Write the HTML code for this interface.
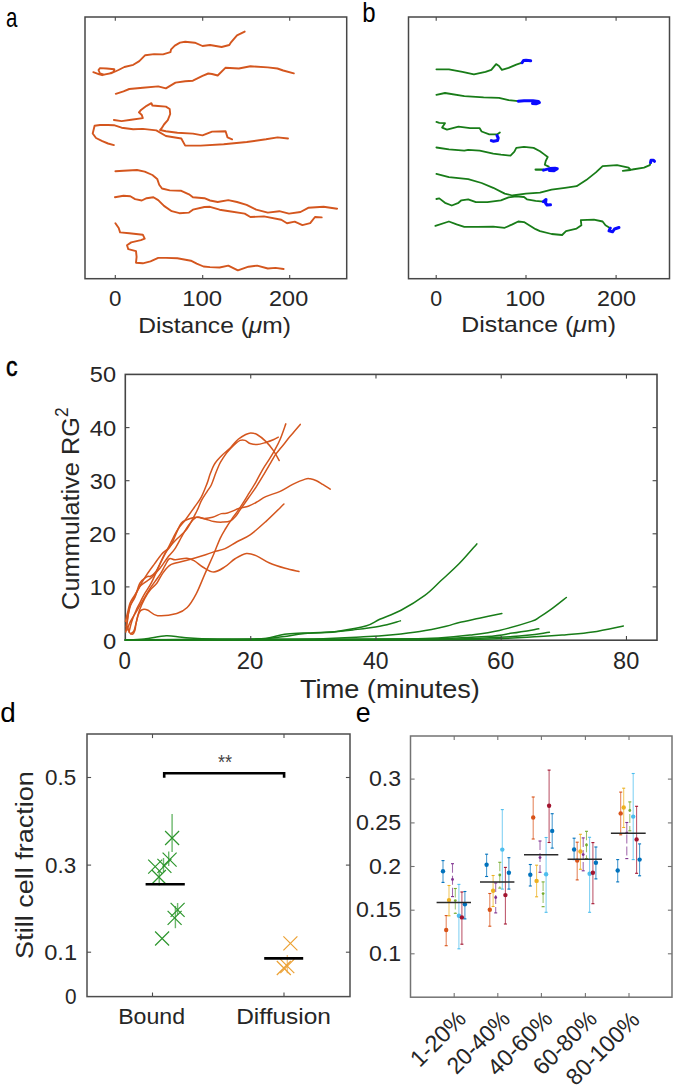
<!DOCTYPE html>
<html><head><meta charset="utf-8"><title>Figure</title>
<style>html,body{margin:0;padding:0;background:#fff;width:675px;height:1086px;overflow:hidden}svg{display:block}text{font-family:"Liberation Sans",sans-serif}</style>
</head><body>
<svg width="675" height="1086" viewBox="0 0 675 1086" font-family='"Liberation Sans", sans-serif'>
<rect width="675" height="1086" fill="#fff"/>
<text x="6.02" y="26.6" font-size="28.5" fill="#000" textLength="11.42" lengthAdjust="spacingAndGlyphs" >a</text>
<text x="362.16" y="21.6" font-size="28.5" fill="#000" textLength="13.35" lengthAdjust="spacingAndGlyphs" >b</text>
<text x="6.02" y="375.8" font-size="28.5" fill="#000" textLength="11.53" lengthAdjust="spacingAndGlyphs" stroke="#000" stroke-width="0.6">c</text>
<text x="0.13" y="722" font-size="28.5" fill="#000" textLength="15.54" lengthAdjust="spacingAndGlyphs" >d</text>
<text x="355.7" y="722" font-size="28.5" fill="#000" textLength="14.9" lengthAdjust="spacingAndGlyphs" >e</text>
<polyline points="93.3,72.2 99.3,74.4 102.2,75.2 109.6,73.4 113.3,72.2 114.4,69.3 106.7,68.5 100,68.1 98.5,70 100,73.5 104,74.6 111.9,73 118.5,70 124.4,67 133.3,64.8 139.3,61.1 145.2,55.2 154.1,54.1 163,54.4 170.4,52.2 171.1,49.3 174.8,45.6 180,42.6 185.2,41.8 194.8,42.7 202.5,46 210,45 221.6,47 229.3,45 231.2,42.1 237,35.4 244.7,31.6" fill="none" stroke="#d4561e" stroke-width="1.9" stroke-linejoin="round" stroke-linecap="round" />
<polyline points="115.8,93.8 123.5,91.3 129.3,89 142.8,87.8 158.2,86.4 165.9,88.4 175.5,82.6 185.2,81.2 192.9,80.7 202.5,75.9 208.3,73.5 212,74 217.7,75.5 225.4,67.8 238.9,68.5 250.4,66.2 267.8,67.4 277.4,68.5 283.2,70.5 293.8,73.4" fill="none" stroke="#d4561e" stroke-width="1.9" stroke-linejoin="round" stroke-linecap="round" />
<polyline points="113.9,120 121.6,121.1 131.2,119.8 142.8,118.1 141.8,115 138.9,112.3 141,110 146.6,105.8 151.4,103.2 152.4,105.5 158,106 165.9,106.6 169.7,109 170.2,114 167.8,120.2 164,124.5 161.5,128.5 160.1,130 165.9,131.3 177.4,132.7 192.9,133.6 202.5,135.4 212.1,131.6 225.6,131.2 227.5,137.4 232.1,139.3" fill="none" stroke="#d4561e" stroke-width="1.9" stroke-linejoin="round" stroke-linecap="round" />
<polyline points="113.9,145.1 108,143.5 102.3,141.2 96,138 92.7,133.5 94.6,125.8 100,125 108.1,125 113.9,125.2 121.6,127.7 133.2,129.3 142.8,128.9 156.3,130.4 165.9,136 181.3,138.5 185.2,145.6 200.6,145.6 223.7,144.3 246.8,142 266,139.3 277.6,137.4 288,138.5" fill="none" stroke="#d4561e" stroke-width="1.9" stroke-linejoin="round" stroke-linecap="round" />
<polyline points="115.4,171.2 123.5,170.8 137,170 144.7,171.6 152.4,175 157.2,178.9 159.2,184.7 162,188.5 169.7,190.4 181.3,190.8 189,194.3 192.9,197.2 204.4,198.2 210,200.5 217.7,202 228.3,200.1 237,202 246.6,204.9 256.2,209.7 267.8,212.6 279.3,211.2 289,213.6 300.5,212 308.2,207.8 323.6,206.8 337.1,208.7" fill="none" stroke="#d4561e" stroke-width="1.9" stroke-linejoin="round" stroke-linecap="round" />
<polyline points="114.9,197.2 123.5,195.8 130.3,196.2 135.1,199.1 141.8,200.5 146.6,198.2 153.4,197.2 158.2,200.1 164,205.9 171.7,211.2 179.4,213.2 189,212.6 192.9,209.7 204.4,207 210,206.8 219.6,209.7 229.3,211.2 244.7,213.6 250.4,217 263.9,216.4 281.3,219.7 287,223.2 294.7,221.6 302.4,225.1 310.2,223.2 315,217 321.7,217.4" fill="none" stroke="#d4561e" stroke-width="1.9" stroke-linejoin="round" stroke-linecap="round" />
<polyline points="115.4,223.2 118.7,228 120.1,232.4 129.3,233.2 142.8,234.7 144.7,238.6 140.9,240.1 131.2,242.4 127,245.3 128.3,249.2 136,251.1 136.6,256.9 136,262.7 142.8,263.3 150.5,261.3 158.2,257.9 165.9,257.9 177.4,258.2 190.9,260.7 196.7,263.6 203.5,266.5 210,267.1 219.6,267.5 228.3,265.6 237.9,270.4 248.5,266.7 257.2,265.6 267.8,268.5 275.5,267.9 283.6,269" fill="none" stroke="#d4561e" stroke-width="1.9" stroke-linejoin="round" stroke-linecap="round" />
<rect x="85" y="17" width="261.7" height="261.7" fill="none" stroke="#474747" stroke-width="1.5"/>
<line x1="115.3" y1="278.7" x2="115.3" y2="275" stroke="#474747" stroke-width="1.1" />
<line x1="115.3" y1="17" x2="115.3" y2="20.7" stroke="#474747" stroke-width="1.1" />
<line x1="202.7" y1="278.7" x2="202.7" y2="275" stroke="#474747" stroke-width="1.1" />
<line x1="202.7" y1="17" x2="202.7" y2="20.7" stroke="#474747" stroke-width="1.1" />
<line x1="289.7" y1="278.7" x2="289.7" y2="275" stroke="#474747" stroke-width="1.1" />
<line x1="289.7" y1="17" x2="289.7" y2="20.7" stroke="#474747" stroke-width="1.1" />
<text x="109.1" y="306.4" font-size="21.2" fill="#262626" textLength="12.41" lengthAdjust="spacingAndGlyphs" >0</text>
<text x="182.21" y="306.4" font-size="21.2" fill="#262626" textLength="39.94" lengthAdjust="spacingAndGlyphs" >100</text>
<text x="269.11" y="306.4" font-size="21.2" fill="#262626" textLength="39.04" lengthAdjust="spacingAndGlyphs" >200</text>
<text x="138.16" y="332.7" font-size="21.2" fill="#262626" textLength="152.85" lengthAdjust="spacingAndGlyphs">Distance (<tspan font-style="italic">&#956;</tspan>m)</text>
<polyline points="436.4,69.3 448.9,69.3 462.4,71.8 473.9,74.3 485.5,71.8 491.3,69.9 496.1,64.1 499,66 501.9,69.9 508.6,67.9 516.3,64.7 522.1,62.7" fill="none" stroke="#187c18" stroke-width="1.8" stroke-linejoin="round" stroke-linecap="round" />
<polyline points="436.4,94.9 445,93 464.3,96.2 483.6,97.4 499,97.8 508.6,100.1 518.2,101.2" fill="none" stroke="#187c18" stroke-width="1.8" stroke-linejoin="round" stroke-linecap="round" />
<polyline points="436.4,121.9 439.3,122.8 445,123.2 442.1,127.6 447,129.6 458.5,126.7 470.1,128.2 479.7,128.2 481.6,131.5 489.3,134.4 497,134.4 499.9,132.4" fill="none" stroke="#187c18" stroke-width="1.8" stroke-linejoin="round" stroke-linecap="round" />
<polyline points="436.4,147.5 448.9,149.4 464.3,150.7 468.2,149.8 479.7,150.7 493.2,153.6 500.9,154.6 510.5,155.6 514.4,151.7 516.3,147.9 524,146.9 533.6,147.9 540,151.2 543.9,154.1 547.7,157 545.8,160.8 544.8,164.7 548.7,166.6" fill="none" stroke="#187c18" stroke-width="1.8" stroke-linejoin="round" stroke-linecap="round" />
<polyline points="436.4,173.9 448.9,177.2 468.2,179.1 481.6,183 493.2,187.8 504.7,193.6 512.4,195.5 525.9,193.6 540,192.6 551.6,189.7 565,187.8 576.6,186.2 586.2,180.1 595.9,172.4 602.6,166.2 617,165.2 628.6,167.6 630.5,170.1 622.8,170.8 632.4,169.5 644,167.6 649.8,165.1 650.7,162.3" fill="none" stroke="#187c18" stroke-width="1.8" stroke-linejoin="round" stroke-linecap="round" />
<polyline points="436.4,199 439.3,198.4 445,202.8 451.8,205.5 458.5,202.8 461.4,200.3 468.2,199.3 475.9,202.2 487.4,202.2 500.9,200.3 508.6,197.4 516.3,196.4 524,197 526.9,199.3 535.6,200.9 543.3,201.6" fill="none" stroke="#187c18" stroke-width="1.8" stroke-linejoin="round" stroke-linecap="round" />
<polyline points="435.4,225.9 448.9,221.5 456.6,224.4 464.3,226.9 477.8,226.9 493.2,226.7 504.7,227.8 512.4,224.4 518.2,221.5 524,222.1 535.6,229.2 540,231.1 551.6,234 562.1,235 566,231.1 576.6,228.6 581.4,225.3 580.8,220.1 593.9,219.6 602.6,221.5 605.5,225.3 610.3,228.2" fill="none" stroke="#187c18" stroke-width="1.8" stroke-linejoin="round" stroke-linecap="round" />
<polyline points="535.6,169.6 543.3,169.6" fill="none" stroke="#187c18" stroke-width="2.2" stroke-linejoin="round" stroke-linecap="round" />
<polyline points="522.1,62.7 523.5,60.5 526,60.3 530.7,60.8" fill="none" stroke="#0a0aff" stroke-width="3.0" stroke-linejoin="round" stroke-linecap="round" />
<polyline points="518.2,101.2 524,100.7 533,100.8 538.5,101.6 539.4,102.6 536,103.8 532.5,103.4" fill="none" stroke="#0a0aff" stroke-width="3.0" stroke-linejoin="round" stroke-linecap="round" />
<polyline points="497,135.5 498.2,138 497.5,140.5 493.5,141.2 491.3,140.6" fill="none" stroke="#0a0aff" stroke-width="3.0" stroke-linejoin="round" stroke-linecap="round" />
<polyline points="543.5,170.1 549.6,168.6 555,168.3 557.3,168.8 554,170.8 549.5,170.6" fill="none" stroke="#0a0aff" stroke-width="3.0" stroke-linejoin="round" stroke-linecap="round" />
<polyline points="650.5,162.6 651,160.3 653.5,160.2 654.5,161.3" fill="none" stroke="#0a0aff" stroke-width="3.0" stroke-linejoin="round" stroke-linecap="round" />
<polyline points="543.3,201.6 546,199.5 545.5,203 547,205 550.5,204.8" fill="none" stroke="#0a0aff" stroke-width="3.0" stroke-linejoin="round" stroke-linecap="round" />
<polyline points="610.3,228.2 609,230.8 612.5,231.8 614.5,229 619,227.5" fill="none" stroke="#0a0aff" stroke-width="3.0" stroke-linejoin="round" stroke-linecap="round" />
<rect x="408.5" y="17" width="261" height="261.7" fill="none" stroke="#474747" stroke-width="1.5"/>
<line x1="436.2" y1="278.7" x2="436.2" y2="275" stroke="#474747" stroke-width="1.1" />
<line x1="436.2" y1="17" x2="436.2" y2="20.7" stroke="#474747" stroke-width="1.1" />
<line x1="526" y1="278.7" x2="526" y2="275" stroke="#474747" stroke-width="1.1" />
<line x1="526" y1="17" x2="526" y2="20.7" stroke="#474747" stroke-width="1.1" />
<line x1="616.1" y1="278.7" x2="616.1" y2="275" stroke="#474747" stroke-width="1.1" />
<line x1="616.1" y1="17" x2="616.1" y2="20.7" stroke="#474747" stroke-width="1.1" />
<text x="430.24" y="306.4" font-size="21.2" fill="#262626" textLength="11.9" lengthAdjust="spacingAndGlyphs" >0</text>
<text x="505.2" y="306.4" font-size="21.2" fill="#262626" textLength="39.99" lengthAdjust="spacingAndGlyphs" >100</text>
<text x="597.06" y="306.4" font-size="21.2" fill="#262626" textLength="38.99" lengthAdjust="spacingAndGlyphs" >200</text>
<text x="461.2" y="332.4" font-size="21.2" fill="#262626" textLength="154.75" lengthAdjust="spacingAndGlyphs">Distance (<tspan font-style="italic">&#956;</tspan>m)</text>
<rect x="125.3" y="374.4" width="531.7" height="265.8" fill="none" stroke="#454545" stroke-width="1.6"/>
<path d="M125.5,640 C128.63,639.82 137.5,639.65 144.29,638.94 C151.07,638.23 159.94,636.02 166.2,635.75 C172.47,635.49 175.91,636.86 181.86,637.35 C187.81,637.83 190.42,638.41 201.9,638.67 C213.38,638.94 239.89,639.03 250.74,638.94 C261.59,638.85 261.39,638.91 267.02,638.14 C272.66,637.37 278.61,635.16 284.55,634.32 C290.5,633.48 296.04,633.45 302.71,633.1 C309.39,632.74 318.47,632.55 324.63,632.19 C330.79,631.84 332.67,632.06 339.66,630.97 C346.65,629.88 359.91,627.61 366.59,625.66 C373.27,623.72 374,621.86 379.74,619.29 C385.48,616.72 393.51,614.25 401.03,610.26 C408.54,606.28 418.14,600.35 424.82,595.4 C431.5,590.44 435.36,585.84 441.1,580.53 C446.84,575.22 453.32,569.64 459.26,563.54 C465.21,557.43 473.88,547.16 476.8,543.89" fill="none" stroke="#187c18" stroke-width="1.5" stroke-linejoin="round" stroke-linecap="round" />
<path d="M125.5,640 C135.94,639.91 167.25,639.56 188.12,639.47 C208.99,639.38 235.09,639.91 250.74,639.47 C266.39,639.03 273.39,637.79 282.05,636.81 C290.71,635.84 295.3,634.34 302.71,633.63 C310.12,632.92 318.16,633.19 326.51,632.57 C334.86,631.95 343.94,630.97 352.81,629.91 C361.68,628.85 371.81,627.7 379.74,626.19 C387.67,624.69 396.96,621.77 400.4,620.88" fill="none" stroke="#187c18" stroke-width="1.5" stroke-linejoin="round" stroke-linecap="round" />
<path d="M125.5,640 C141.16,639.96 188.12,639.91 219.43,639.73 C250.74,639.56 289.36,639.42 313.36,638.94 C337.36,638.45 350.2,637.52 363.46,636.81 C376.71,636.11 383.49,635.58 392.89,634.69 C402.28,633.81 410.94,632.92 419.81,631.5 C428.69,630.09 439.54,627.7 446.11,626.19 C452.69,624.69 453.73,623.8 459.26,622.48 C464.8,621.15 472.21,619.73 479.3,618.23 C486.4,616.72 498.09,614.25 501.85,613.45" fill="none" stroke="#187c18" stroke-width="1.5" stroke-linejoin="round" stroke-linecap="round" />
<path d="M125.5,640 C146.37,639.96 208.99,639.82 250.74,639.73 C292.49,639.65 344.67,639.78 375.98,639.47 C407.29,639.16 422.42,638.67 438.6,637.88 C454.78,637.08 462.92,635.93 473.04,634.69 C483.16,633.45 489.64,632.65 499.34,630.44 C509.05,628.23 524.6,623.63 531.28,621.41 C537.96,619.2 536.08,619.2 539.42,617.17 C542.76,615.13 546.83,612.48 551.32,609.2 C555.8,605.93 563.84,599.47 566.34,597.52" fill="none" stroke="#187c18" stroke-width="1.5" stroke-linejoin="round" stroke-linecap="round" />
<path d="M125.5,640 C146.37,639.97 203.78,639.93 250.74,639.84 C297.7,639.75 368.05,640.02 407.29,639.47 C446.53,638.92 468.66,637.61 486.19,636.55 C503.72,635.49 503.72,634.38 512.49,633.1 C521.26,631.81 534.41,629.56 538.79,628.85" fill="none" stroke="#187c18" stroke-width="1.5" stroke-linejoin="round" stroke-linecap="round" />
<path d="M125.5,640 C151.59,639.97 229.87,639.93 282.05,639.84 C334.23,639.75 400.19,640.02 438.6,639.47 C477.01,638.92 494.02,637.74 512.49,636.55 C530.96,635.35 543.28,633.01 549.44,632.3" fill="none" stroke="#187c18" stroke-width="1.5" stroke-linejoin="round" stroke-linecap="round" />
<path d="M125.5,640 C156.81,639.97 255.96,639.93 313.36,639.84 C370.76,639.75 432.23,640.02 469.91,639.47 C507.59,638.92 523.35,637.35 539.42,636.55 C555.49,635.75 557.47,635.44 566.34,634.69 C575.22,633.94 583.15,633.5 592.65,632.03 C602.14,630.57 618.22,626.95 623.33,625.93" fill="none" stroke="#187c18" stroke-width="1.5" stroke-linejoin="round" stroke-linecap="round" />
<path d="M125.5,640 C146.37,639.96 208.99,639.82 250.74,639.73 C292.49,639.65 344.67,639.56 375.98,639.47 C407.29,639.38 428.16,639.25 438.6,639.2" fill="none" stroke="#187c18" stroke-width="2.2" stroke-linejoin="round" stroke-linecap="round" />
<path d="M125.81,632.03 C126.07,630.26 126.75,625.57 127.38,621.41 C128,617.26 128.32,611.06 129.57,607.08 C130.82,603.1 133.17,601.5 134.89,597.52 C136.62,593.54 137.92,586.63 139.9,583.18 C141.89,579.73 145.02,577.96 146.79,576.81 C148.57,575.66 149.09,577.08 150.55,576.28 C152.01,575.48 153.68,574.69 155.56,572.03 C157.44,569.38 159.73,564.33 161.82,560.35 C163.91,556.37 166.2,551.85 168.08,548.14 C169.96,544.42 171.42,541.23 173.09,538.05 C174.76,534.86 176.01,532.12 178.1,529.02 C180.19,525.92 182.9,523.09 185.62,519.46 C188.33,515.83 191.77,510.97 194.38,507.25 C196.99,503.53 199.18,501.06 201.27,497.16 C203.36,493.27 205.44,487.69 206.91,483.89 C208.37,480.08 208.89,477.43 210.04,474.33 C211.19,471.23 212.54,467.69 213.79,465.3 C215.05,462.91 216.09,461.76 217.55,459.99 C219.01,458.22 220.79,456.36 222.56,454.68 C224.34,453 226.42,451.58 228.2,449.9 C229.97,448.22 231.54,446.36 233.21,444.59 C234.88,442.82 236.13,440.96 238.22,439.28 C240.3,437.6 243.64,435.56 245.73,434.5 C247.82,433.44 248.86,432.91 250.74,432.91 C252.62,432.91 254.5,433.09 257,434.5 C259.51,435.92 263.06,438.75 265.77,441.41 C268.48,444.06 271.04,447.25 273.28,450.43 C275.53,453.62 278.24,458.84 279.23,460.52" fill="none" stroke="#d4561e" stroke-width="1.5" stroke-linejoin="round" stroke-linecap="round" />
<path d="M126.13,626.73 C126.44,624.96 127.27,619.64 128,616.11 C128.74,612.57 129.26,609.02 130.51,605.49 C131.76,601.95 133.64,598.67 135.52,594.87 C137.4,591.06 139.8,586.19 141.78,582.65 C143.76,579.11 145.33,576.72 147.42,573.62 C149.5,570.53 151.9,567.34 154.31,564.07 C156.71,560.79 159.67,556.46 161.82,553.98 C163.97,551.5 164.91,551.5 167.2,549.2 C169.5,546.9 172.32,543.54 175.6,540.17 C178.87,536.81 183.32,533.89 186.87,529.02 C190.42,524.15 194.49,515.66 196.89,510.97 C199.29,506.28 199.6,504.06 201.27,500.88 C202.94,497.69 205.24,494.51 206.91,491.85 C208.58,489.2 209.83,488.05 211.29,484.95 C212.75,481.85 214.32,476.72 215.67,473.27 C217.03,469.81 218.28,466.63 219.43,464.24 C220.58,461.85 221.31,460.88 222.56,458.93 C223.81,456.98 225.07,454.86 226.94,452.56 C228.82,450.26 231.64,447.16 233.83,445.12 C236.02,443.09 238.22,441.14 240.09,440.34 C241.97,439.55 243.43,439.81 245.1,440.34 C246.77,440.88 248.13,442.82 250.11,443.53 C252.1,444.24 254.39,444.77 257,444.59 C259.61,444.42 263.06,443.26 265.77,442.47 C268.48,441.67 271.2,440.7 273.28,439.81 C275.37,438.93 277.46,437.6 278.29,437.16" fill="none" stroke="#d4561e" stroke-width="1.5" stroke-linejoin="round" stroke-linecap="round" />
<path d="M129.01,632.03 C129.47,630.26 130.57,625.04 131.76,621.41 C132.95,617.79 134.79,613.36 136.15,610.26 C137.5,607.17 138.6,605.4 139.9,602.83 C141.21,600.26 142.09,598.14 143.97,594.87 C145.85,591.59 149.03,587.17 151.17,583.18 C153.31,579.2 154.62,575.75 156.81,570.97 C159,566.19 161.98,558.76 164.32,554.51 C166.67,550.26 168.86,549.11 170.9,545.48 C172.93,541.85 174.81,536.46 176.54,532.74 C178.26,529.02 179.2,525.48 181.23,523.18 C183.27,520.88 186.24,519.91 188.75,518.93 C191.25,517.96 193.55,517.34 196.26,517.34 C198.97,517.34 202.11,518.22 205.03,518.93 C207.95,519.64 210.87,521.06 213.79,521.59 C216.72,522.12 219.8,522.21 222.56,522.12 C225.33,522.03 228.2,522.03 230.39,521.06 C232.58,520.08 234.09,518.14 235.71,516.28 C237.33,514.42 238.01,512.91 240.09,509.9 C242.18,506.9 245.52,502.12 248.24,498.22 C250.95,494.33 253.77,490.52 256.38,486.54 C258.98,482.56 261.49,478.31 263.89,474.33 C266.29,470.35 268.8,466.01 270.78,462.65 C272.76,459.28 274.01,456.72 275.79,454.15 C277.56,451.58 278.92,450.34 281.42,447.25 C283.93,444.15 287.69,439.37 290.82,435.57 C293.95,431.76 298.64,426.27 300.21,424.41" fill="none" stroke="#d4561e" stroke-width="1.5" stroke-linejoin="round" stroke-linecap="round" />
<path d="M125.5,621.41 C125.81,620.09 126.6,616.55 127.38,613.45 C128.16,610.35 129.05,605.75 130.2,602.83 C131.34,599.91 132.54,598.76 134.27,595.93 C135.99,593.1 138.55,588.23 140.53,585.84 C142.51,583.45 144.31,583.01 146.16,581.59 C148.02,580.17 149.38,579.55 151.68,577.34 C153.97,575.13 157.31,571.59 159.94,568.32 C162.57,565.04 165,560.88 167.46,557.7 C169.91,554.51 172.26,552.74 174.66,549.2 C177.06,545.66 179.61,540.35 181.86,536.46 C184.1,532.56 185.72,529.02 188.12,525.84 C190.52,522.65 193.55,518.58 196.26,517.34 C198.97,516.1 201.69,518.4 204.4,518.4 C207.11,518.4 209.72,518.14 212.54,517.34 C215.36,516.54 218.8,514.33 221.31,513.62 C223.81,512.91 224.54,513.98 227.57,513.09 C230.6,512.21 236.02,509.46 239.47,508.31 C242.91,507.16 245.31,507.25 248.24,506.19 C251.16,505.13 254.08,503.53 257,501.94 C259.92,500.35 261.91,498.4 265.77,496.63 C269.63,494.86 275.68,493.36 280.17,491.32 C284.66,489.28 288.52,486.45 292.7,484.42 C296.87,482.38 302.3,480.04 305.22,479.11 C308.14,478.18 308.35,478.58 310.23,478.84 C312.11,479.11 314.4,479.77 316.49,480.7 C318.58,481.63 320.46,483 322.75,484.42 C325.05,485.83 329.01,488.4 330.27,489.2" fill="none" stroke="#d4561e" stroke-width="1.5" stroke-linejoin="round" stroke-linecap="round" />
<path d="M127.38,626.19 C127.69,627.17 128.42,630.71 129.26,632.03 C130.09,633.36 131.45,634.42 132.39,634.16 C133.33,633.89 134.27,632.3 134.89,630.44 C135.52,628.58 135.41,626.28 136.15,623.01 C136.88,619.73 137.82,614.95 139.28,610.79 C140.74,606.64 143.03,601.59 144.91,598.05 C146.79,594.51 148.57,592.03 150.55,589.56 C152.53,587.08 154.83,585.84 156.81,583.18 C158.79,580.53 160.36,576.55 162.45,573.62 C164.53,570.7 167.14,567.43 169.33,565.66 C171.53,563.89 172.36,563.98 175.6,563 C178.83,562.03 184.15,561.06 188.75,559.82 C193.34,558.58 198.97,556.9 203.15,555.57 C207.32,554.24 210.14,553 213.79,551.85 C217.45,550.7 221.2,550.35 225.07,548.67 C228.93,546.99 232.79,544.07 236.96,541.76 C241.14,539.46 245.31,538.22 250.11,534.86 C254.91,531.5 260.13,526.72 265.77,521.59 C271.4,516.45 280.9,506.98 283.93,504.06" fill="none" stroke="#d4561e" stroke-width="1.5" stroke-linejoin="round" stroke-linecap="round" />
<path d="M126.75,630.44 C127.38,628.94 128.84,624.69 130.51,621.41 C132.18,618.14 134.68,614.33 136.77,610.79 C138.86,607.25 140.95,603.71 143.03,600.17 C145.12,596.63 147.31,592.65 149.3,589.56 C151.28,586.46 153.05,584.25 154.93,581.59 C156.81,578.94 158.9,576.28 160.57,573.62 C162.24,570.97 163.49,568.14 164.95,565.66 C166.41,563.18 167.6,559.73 169.33,558.76 C171.07,557.78 172.42,559.91 175.35,559.82 C178.27,559.73 183.69,558.05 186.87,558.23 C190.04,558.4 191.67,559.38 194.38,560.88 C197.1,562.39 199.91,565.39 203.15,567.25 C206.38,569.11 210.14,572.12 213.79,572.03 C217.45,571.94 221.52,568.93 225.07,566.72 C228.61,564.51 231.54,560.97 235.08,558.76 C238.63,556.54 242.7,553.89 246.36,553.45 C250.01,553 253.14,554.51 257,556.1 C260.86,557.69 264.83,560.97 269.53,563 C274.22,565.04 280.28,566.9 285.18,568.32 C290.09,569.73 296.66,570.97 298.96,571.5" fill="none" stroke="#d4561e" stroke-width="1.5" stroke-linejoin="round" stroke-linecap="round" />
<path d="M130.51,633.63 C131.03,633.27 132.81,632.88 133.64,631.5 C134.48,630.13 134.79,628.05 135.52,625.4 C136.25,622.74 137.19,618.01 138.02,615.57 C138.86,613.14 139.54,611.86 140.53,610.79 C141.52,609.73 142.72,609.29 143.97,609.2 C145.23,609.11 145.78,609.18 148.04,610.26 C150.31,611.34 152.77,615.15 157.56,615.68 C162.35,616.21 171.85,614.81 176.79,613.45 C181.72,612.09 183.97,610.72 187.18,607.5 C190.4,604.29 193.1,599.82 196.07,594.17 C199.05,588.53 202.07,580.32 205.03,573.62 C207.98,566.93 211.29,559.82 213.79,553.98 C216.3,548.14 218.07,542.83 220.06,538.58 C222.04,534.33 223.71,531.76 225.69,528.49 C227.67,525.22 229.76,522.12 231.95,518.93 C234.15,515.75 236.23,513.27 238.84,509.37 C241.45,505.48 244.79,500.08 247.61,495.57 C250.43,491.05 253.24,486.63 255.75,482.29 C258.25,477.96 260.34,473.44 262.64,469.55 C264.93,465.65 267.44,462.29 269.53,458.93 C271.61,455.57 273.39,452.65 275.16,449.37 C276.94,446.1 278.4,443.53 280.17,439.28 C281.95,435.03 284.87,426.45 285.81,423.88" fill="none" stroke="#d4561e" stroke-width="1.5" stroke-linejoin="round" stroke-linecap="round" />
<line x1="250.74" y1="640.2" x2="250.74" y2="636" stroke="#454545" stroke-width="1.1" />
<line x1="250.74" y1="374.4" x2="250.74" y2="378.6" stroke="#454545" stroke-width="1.1" />
<line x1="375.98" y1="640.2" x2="375.98" y2="636" stroke="#454545" stroke-width="1.1" />
<line x1="375.98" y1="374.4" x2="375.98" y2="378.6" stroke="#454545" stroke-width="1.1" />
<line x1="501.22" y1="640.2" x2="501.22" y2="636" stroke="#454545" stroke-width="1.1" />
<line x1="501.22" y1="374.4" x2="501.22" y2="378.6" stroke="#454545" stroke-width="1.1" />
<line x1="626.46" y1="640.2" x2="626.46" y2="636" stroke="#454545" stroke-width="1.1" />
<line x1="626.46" y1="374.4" x2="626.46" y2="378.6" stroke="#454545" stroke-width="1.1" />
<line x1="125.3" y1="586.9" x2="129.5" y2="586.9" stroke="#454545" stroke-width="1.1" />
<line x1="656.8" y1="586.9" x2="652.6" y2="586.9" stroke="#454545" stroke-width="1.1" />
<line x1="125.3" y1="533.8" x2="129.5" y2="533.8" stroke="#454545" stroke-width="1.1" />
<line x1="656.8" y1="533.8" x2="652.6" y2="533.8" stroke="#454545" stroke-width="1.1" />
<line x1="125.3" y1="480.7" x2="129.5" y2="480.7" stroke="#454545" stroke-width="1.1" />
<line x1="656.8" y1="480.7" x2="652.6" y2="480.7" stroke="#454545" stroke-width="1.1" />
<line x1="125.3" y1="427.6" x2="129.5" y2="427.6" stroke="#454545" stroke-width="1.1" />
<line x1="656.8" y1="427.6" x2="652.6" y2="427.6" stroke="#454545" stroke-width="1.1" />
<text x="102.93" y="648.7" font-size="22.6" fill="#262626" textLength="13.24" lengthAdjust="spacingAndGlyphs" >0</text>
<text x="89.82" y="594.9" font-size="22.6" fill="#262626" textLength="25.69" lengthAdjust="spacingAndGlyphs" >10</text>
<text x="88.92" y="541.8" font-size="22.6" fill="#262626" textLength="27.19" lengthAdjust="spacingAndGlyphs" >20</text>
<text x="89.82" y="488.7" font-size="22.6" fill="#262626" textLength="26.25" lengthAdjust="spacingAndGlyphs" >30</text>
<text x="89.82" y="435.6" font-size="22.6" fill="#262626" textLength="26.44" lengthAdjust="spacingAndGlyphs" >40</text>
<text x="89.82" y="381.8" font-size="22.6" fill="#262626" textLength="26.18" lengthAdjust="spacingAndGlyphs" >50</text>
<text x="118.4" y="668.6" font-size="23.3" fill="#262626" textLength="12.38" lengthAdjust="spacingAndGlyphs" >0</text>
<text x="236.78" y="668.6" font-size="23.3" fill="#262626" textLength="26.67" lengthAdjust="spacingAndGlyphs" >20</text>
<text x="362.93" y="668.6" font-size="23.3" fill="#262626" textLength="25.53" lengthAdjust="spacingAndGlyphs" >40</text>
<text x="487.13" y="668.6" font-size="23.3" fill="#262626" textLength="27.17" lengthAdjust="spacingAndGlyphs" >60</text>
<text x="613.05" y="668.6" font-size="23.3" fill="#262626" textLength="26.19" lengthAdjust="spacingAndGlyphs" >80</text>
<text x="300.07" y="697.8" font-size="25" fill="#262626" textLength="179.82" lengthAdjust="spacingAndGlyphs" >Time (minutes)</text>
<text transform="translate(79.3,609.88) rotate(-90)" font-size="24.6" fill="#262626" textLength="192.77" lengthAdjust="spacingAndGlyphs">Cummulative RG</text>
<text transform="translate(67.7,416.9) rotate(-90)" font-size="17.5" fill="#262626" textLength="9.67" lengthAdjust="spacingAndGlyphs">2</text>
<line x1="172.1" y1="814" x2="172.1" y2="852" stroke="#6cb86c" stroke-width="1.4" />
<line x1="168.7" y1="851.6" x2="168.7" y2="866" stroke="#6cb86c" stroke-width="1.4" />
<line x1="159.2" y1="870.7" x2="159.2" y2="885.4" stroke="#6cb86c" stroke-width="1.4" />
<line x1="175.4" y1="906" x2="175.4" y2="928.2" stroke="#6cb86c" stroke-width="1.4" />
<line x1="163.5" y1="858" x2="163.5" y2="872" stroke="#6cb86c" stroke-width="1.4" />
<line x1="177.6" y1="903" x2="177.6" y2="915" stroke="#6cb86c" stroke-width="1.4" />
<path d="M165.1,831 L179.1,845 M165.1,845 L179.1,831" stroke="#2e962e" stroke-width="1.2" fill="none"/>
<path d="M162.6,852.6 L176.6,866.6 M162.6,866.6 L176.6,852.6" stroke="#2e962e" stroke-width="1.2" fill="none"/>
<path d="M157.4,858.9 L171.4,872.9 M157.4,872.9 L171.4,858.9" stroke="#2e962e" stroke-width="1.2" fill="none"/>
<path d="M148.2,859.7 L162.2,873.7 M148.2,873.7 L162.2,859.7" stroke="#2e962e" stroke-width="1.2" fill="none"/>
<path d="M151.9,870 L165.9,884 M151.9,884 L165.9,870" stroke="#2e962e" stroke-width="1.2" fill="none"/>
<path d="M170.6,902.8 L184.6,916.8 M170.6,916.8 L184.6,902.8" stroke="#2e962e" stroke-width="1.2" fill="none"/>
<path d="M167.6,910.9 L181.6,924.9 M167.6,924.9 L181.6,910.9" stroke="#2e962e" stroke-width="1.2" fill="none"/>
<path d="M155.1,931.5 L169.1,945.5 M155.1,945.5 L169.1,931.5" stroke="#2e962e" stroke-width="1.2" fill="none"/>
<line x1="287.3" y1="955.1" x2="287.3" y2="973.3" stroke="#f0c080" stroke-width="1.3" />
<path d="M283.4,936.3 L297.4,950.3 M283.4,950.3 L297.4,936.3" stroke="#eca134" stroke-width="1.2" fill="none"/>
<path d="M276.8,961 L290.8,975 M276.8,975 L290.8,961" stroke="#eca134" stroke-width="1.2" fill="none"/>
<path d="M280.3,959.2 L294.3,973.2 M280.3,973.2 L294.3,959.2" stroke="#eca134" stroke-width="1.2" fill="none"/>
<line x1="145.6" y1="884.3" x2="184.8" y2="884.3" stroke="#000" stroke-width="2.5" />
<line x1="264.2" y1="958.4" x2="303.2" y2="958.4" stroke="#000" stroke-width="2.6" />
<path d="M164.2,777.8 L164.2,773.3 L284.1,773.3 L284.1,777.8" fill="none" stroke="#000" stroke-width="2.6"/>
<rect x="87" y="734" width="263" height="262.6" fill="none" stroke="#4d4d4d" stroke-width="1.5"/>
<line x1="152.5" y1="996.6" x2="152.5" y2="992.5" stroke="#4d4d4d" stroke-width="1.1" />
<line x1="152.5" y1="734" x2="152.5" y2="738.1" stroke="#4d4d4d" stroke-width="1.1" />
<line x1="284" y1="996.6" x2="284" y2="992.5" stroke="#4d4d4d" stroke-width="1.1" />
<line x1="284" y1="734" x2="284" y2="738.1" stroke="#4d4d4d" stroke-width="1.1" />
<line x1="87" y1="952.2" x2="91.1" y2="952.2" stroke="#4d4d4d" stroke-width="1.1" />
<line x1="350" y1="952.2" x2="345.9" y2="952.2" stroke="#4d4d4d" stroke-width="1.1" />
<line x1="87" y1="865.1" x2="91.1" y2="865.1" stroke="#4d4d4d" stroke-width="1.1" />
<line x1="350" y1="865.1" x2="345.9" y2="865.1" stroke="#4d4d4d" stroke-width="1.1" />
<line x1="87" y1="777.5" x2="91.1" y2="777.5" stroke="#4d4d4d" stroke-width="1.1" />
<line x1="350" y1="777.5" x2="345.9" y2="777.5" stroke="#4d4d4d" stroke-width="1.1" />
<text x="45.02" y="784.9" font-size="22.4" fill="#262626" textLength="31.13" lengthAdjust="spacingAndGlyphs" >0.5</text>
<text x="45.02" y="872.6" font-size="22.4" fill="#262626" textLength="31.13" lengthAdjust="spacingAndGlyphs" >0.3</text>
<text x="44.2" y="959.8" font-size="22.4" fill="#262626" textLength="32.84" lengthAdjust="spacingAndGlyphs" >0.1</text>
<text x="65.06" y="1003.9" font-size="22.4" fill="#262626" textLength="11.53" lengthAdjust="spacingAndGlyphs" >0</text>
<text x="118.2" y="1023.7" font-size="21.3" fill="#262626" textLength="66.92" lengthAdjust="spacingAndGlyphs" >Bound</text>
<text x="236.21" y="1024" font-size="21.3" fill="#262626" textLength="94.78" lengthAdjust="spacingAndGlyphs" >Diffusion</text>
<text x="218" y="769" font-size="20.5" fill="#444" textLength="14.08" lengthAdjust="spacingAndGlyphs" >**</text>
<text transform="translate(33.2,958.88) rotate(-90)" font-size="24.6" fill="#262626" textLength="187.8" lengthAdjust="spacingAndGlyphs">Still cell fraction</text>
<line x1="443" y1="860.6" x2="443" y2="882.4" stroke="#0072bd" stroke-width="1.05"  stroke-opacity="0.72"/>
<line x1="441.5" y1="860.6" x2="444.5" y2="860.6" stroke="#0072bd" stroke-width="1.1" />
<line x1="441.5" y1="882.4" x2="444.5" y2="882.4" stroke="#0072bd" stroke-width="1.1" />
<circle cx="443" cy="871.3" r="2.2" fill="#0072bd"/>
<line x1="446.2" y1="915.6" x2="446.2" y2="945.7" stroke="#d95319" stroke-width="1.05"  stroke-opacity="0.72"/>
<line x1="444.7" y1="915.6" x2="447.7" y2="915.6" stroke="#d95319" stroke-width="1.1" />
<line x1="444.7" y1="945.7" x2="447.7" y2="945.7" stroke="#d95319" stroke-width="1.1" />
<circle cx="446.2" cy="930" r="2.2" fill="#d95319"/>
<line x1="449" y1="885.5" x2="449" y2="915.8" stroke="#edb120" stroke-width="1.05"  stroke-opacity="0.72"/>
<line x1="447.5" y1="885.5" x2="450.5" y2="885.5" stroke="#edb120" stroke-width="1.1" />
<line x1="447.5" y1="915.8" x2="450.5" y2="915.8" stroke="#edb120" stroke-width="1.1" />
<circle cx="449" cy="900.1" r="2.2" fill="#edb120"/>
<line x1="452.5" y1="863.7" x2="452.5" y2="896.6" stroke="#7e2f8e" stroke-width="1.05" stroke-dasharray="9,3" stroke-opacity="0.72"/>
<line x1="451" y1="863.7" x2="454" y2="863.7" stroke="#7e2f8e" stroke-width="1.1" />
<line x1="451" y1="896.6" x2="454" y2="896.6" stroke="#7e2f8e" stroke-width="1.1" />
<circle cx="452.5" cy="879.4" r="1.4" fill="#7e2f8e"/>
<line x1="455.3" y1="888.5" x2="455.3" y2="913.3" stroke="#77ac30" stroke-width="1.05" stroke-dasharray="9,3" stroke-opacity="0.72"/>
<line x1="453.8" y1="888.5" x2="456.8" y2="888.5" stroke="#77ac30" stroke-width="1.1" />
<line x1="453.8" y1="913.3" x2="456.8" y2="913.3" stroke="#77ac30" stroke-width="1.1" />
<circle cx="455.3" cy="900.6" r="1.4" fill="#77ac30"/>
<line x1="458.9" y1="884.4" x2="458.9" y2="948.8" stroke="#4dbeee" stroke-width="1.05"  stroke-opacity="0.72"/>
<line x1="457.4" y1="884.4" x2="460.4" y2="884.4" stroke="#4dbeee" stroke-width="1.1" />
<line x1="457.4" y1="948.8" x2="460.4" y2="948.8" stroke="#4dbeee" stroke-width="1.1" />
<circle cx="458.9" cy="915.8" r="2.2" fill="#4dbeee"/>
<line x1="461.9" y1="892" x2="461.9" y2="944.2" stroke="#a2142f" stroke-width="1.05"  stroke-opacity="0.72"/>
<line x1="460.4" y1="892" x2="463.4" y2="892" stroke="#a2142f" stroke-width="1.1" />
<line x1="460.4" y1="944.2" x2="463.4" y2="944.2" stroke="#a2142f" stroke-width="1.1" />
<circle cx="461.9" cy="917.4" r="2.2" fill="#a2142f"/>
<line x1="464.9" y1="891.5" x2="464.9" y2="918.9" stroke="#0072bd" stroke-width="1.05"  stroke-opacity="0.72"/>
<line x1="463.4" y1="891.5" x2="466.4" y2="891.5" stroke="#0072bd" stroke-width="1.1" />
<line x1="463.4" y1="918.9" x2="466.4" y2="918.9" stroke="#0072bd" stroke-width="1.1" />
<circle cx="464.9" cy="904.2" r="2.2" fill="#0072bd"/>
<line x1="436.6" y1="902.5" x2="471" y2="902.5" stroke="#2a2a2a" stroke-width="1.4" />
<line x1="486.6" y1="854.2" x2="486.6" y2="876.5" stroke="#0072bd" stroke-width="1.05"  stroke-opacity="0.72"/>
<line x1="485.1" y1="854.2" x2="488.1" y2="854.2" stroke="#0072bd" stroke-width="1.1" />
<line x1="485.1" y1="876.5" x2="488.1" y2="876.5" stroke="#0072bd" stroke-width="1.1" />
<circle cx="486.6" cy="864.8" r="2.2" fill="#0072bd"/>
<line x1="489.8" y1="893.5" x2="489.8" y2="926.2" stroke="#d95319" stroke-width="1.05"  stroke-opacity="0.72"/>
<line x1="488.3" y1="893.5" x2="491.3" y2="893.5" stroke="#d95319" stroke-width="1.1" />
<line x1="488.3" y1="926.2" x2="491.3" y2="926.2" stroke="#d95319" stroke-width="1.1" />
<circle cx="489.8" cy="909.8" r="2.2" fill="#d95319"/>
<line x1="493.1" y1="875.5" x2="493.1" y2="906.5" stroke="#edb120" stroke-width="1.05"  stroke-opacity="0.72"/>
<line x1="491.6" y1="875.5" x2="494.6" y2="875.5" stroke="#edb120" stroke-width="1.1" />
<line x1="491.6" y1="906.5" x2="494.6" y2="906.5" stroke="#edb120" stroke-width="1.1" />
<circle cx="493.1" cy="890.7" r="2.2" fill="#edb120"/>
<line x1="495.7" y1="883" x2="495.7" y2="912.9" stroke="#7e2f8e" stroke-width="1.05" stroke-dasharray="9,3" stroke-opacity="0.72"/>
<line x1="494.2" y1="883" x2="497.2" y2="883" stroke="#7e2f8e" stroke-width="1.1" />
<line x1="494.2" y1="912.9" x2="497.2" y2="912.9" stroke="#7e2f8e" stroke-width="1.1" />
<circle cx="495.7" cy="897.5" r="1.4" fill="#7e2f8e"/>
<line x1="499.8" y1="862.3" x2="499.8" y2="888.1" stroke="#77ac30" stroke-width="1.05" stroke-dasharray="9,3" stroke-opacity="0.72"/>
<line x1="498.3" y1="862.3" x2="501.3" y2="862.3" stroke="#77ac30" stroke-width="1.1" />
<line x1="498.3" y1="888.1" x2="501.3" y2="888.1" stroke="#77ac30" stroke-width="1.1" />
<circle cx="499.8" cy="875" r="1.4" fill="#77ac30"/>
<line x1="502.3" y1="809.6" x2="502.3" y2="889.1" stroke="#4dbeee" stroke-width="1.05"  stroke-opacity="0.72"/>
<line x1="500.8" y1="809.6" x2="503.8" y2="809.6" stroke="#4dbeee" stroke-width="1.1" />
<line x1="500.8" y1="889.1" x2="503.8" y2="889.1" stroke="#4dbeee" stroke-width="1.1" />
<circle cx="502.3" cy="849.6" r="2.2" fill="#4dbeee"/>
<line x1="505.4" y1="867.4" x2="505.4" y2="924" stroke="#a2142f" stroke-width="1.05"  stroke-opacity="0.72"/>
<line x1="503.9" y1="867.4" x2="506.9" y2="867.4" stroke="#a2142f" stroke-width="1.1" />
<line x1="503.9" y1="924" x2="506.9" y2="924" stroke="#a2142f" stroke-width="1.1" />
<circle cx="505.4" cy="895.1" r="2.2" fill="#a2142f"/>
<line x1="508.9" y1="857.7" x2="508.9" y2="889.1" stroke="#0072bd" stroke-width="1.05"  stroke-opacity="0.72"/>
<line x1="507.4" y1="857.7" x2="510.4" y2="857.7" stroke="#0072bd" stroke-width="1.1" />
<line x1="507.4" y1="889.1" x2="510.4" y2="889.1" stroke="#0072bd" stroke-width="1.1" />
<circle cx="508.9" cy="872.7" r="2.2" fill="#0072bd"/>
<line x1="480" y1="882" x2="514.4" y2="882" stroke="#2a2a2a" stroke-width="1.4" />
<line x1="530.3" y1="864.5" x2="530.3" y2="886" stroke="#0072bd" stroke-width="1.05"  stroke-opacity="0.72"/>
<line x1="528.8" y1="864.5" x2="531.8" y2="864.5" stroke="#0072bd" stroke-width="1.1" />
<line x1="528.8" y1="886" x2="531.8" y2="886" stroke="#0072bd" stroke-width="1.1" />
<circle cx="530.3" cy="874.8" r="2.2" fill="#0072bd"/>
<line x1="533.2" y1="797" x2="533.2" y2="839" stroke="#d95319" stroke-width="1.05"  stroke-opacity="0.72"/>
<line x1="531.7" y1="797" x2="534.7" y2="797" stroke="#d95319" stroke-width="1.1" />
<line x1="531.7" y1="839" x2="534.7" y2="839" stroke="#d95319" stroke-width="1.1" />
<circle cx="533.2" cy="817.5" r="2.2" fill="#d95319"/>
<line x1="536.6" y1="865.2" x2="536.6" y2="896.8" stroke="#edb120" stroke-width="1.05"  stroke-opacity="0.72"/>
<line x1="535.1" y1="865.2" x2="538.1" y2="865.2" stroke="#edb120" stroke-width="1.1" />
<line x1="535.1" y1="896.8" x2="538.1" y2="896.8" stroke="#edb120" stroke-width="1.1" />
<circle cx="536.6" cy="880.9" r="2.2" fill="#edb120"/>
<line x1="540" y1="841" x2="540" y2="872.3" stroke="#7e2f8e" stroke-width="1.05" stroke-dasharray="9,3" stroke-opacity="0.72"/>
<line x1="538.5" y1="841" x2="541.5" y2="841" stroke="#7e2f8e" stroke-width="1.1" />
<line x1="538.5" y1="872.3" x2="541.5" y2="872.3" stroke="#7e2f8e" stroke-width="1.1" />
<circle cx="540" cy="857.6" r="1.4" fill="#7e2f8e"/>
<line x1="543.1" y1="881.9" x2="543.1" y2="906.7" stroke="#77ac30" stroke-width="1.05" stroke-dasharray="9,3" stroke-opacity="0.72"/>
<line x1="541.6" y1="881.9" x2="544.6" y2="881.9" stroke="#77ac30" stroke-width="1.1" />
<line x1="541.6" y1="906.7" x2="544.6" y2="906.7" stroke="#77ac30" stroke-width="1.1" />
<circle cx="543.1" cy="893.6" r="1.4" fill="#77ac30"/>
<line x1="546.1" y1="837.5" x2="546.1" y2="912.3" stroke="#4dbeee" stroke-width="1.05"  stroke-opacity="0.72"/>
<line x1="544.6" y1="837.5" x2="547.6" y2="837.5" stroke="#4dbeee" stroke-width="1.1" />
<line x1="544.6" y1="912.3" x2="547.6" y2="912.3" stroke="#4dbeee" stroke-width="1.1" />
<circle cx="546.1" cy="874.3" r="2.2" fill="#4dbeee"/>
<line x1="549.1" y1="770.1" x2="549.1" y2="842.5" stroke="#a2142f" stroke-width="1.05"  stroke-opacity="0.72"/>
<line x1="547.6" y1="770.1" x2="550.6" y2="770.1" stroke="#a2142f" stroke-width="1.1" />
<line x1="547.6" y1="842.5" x2="550.6" y2="842.5" stroke="#a2142f" stroke-width="1.1" />
<circle cx="549.1" cy="805.8" r="2.2" fill="#a2142f"/>
<line x1="552.2" y1="813.7" x2="552.2" y2="848.1" stroke="#0072bd" stroke-width="1.05"  stroke-opacity="0.72"/>
<line x1="550.7" y1="813.7" x2="553.7" y2="813.7" stroke="#0072bd" stroke-width="1.1" />
<line x1="550.7" y1="848.1" x2="553.7" y2="848.1" stroke="#0072bd" stroke-width="1.1" />
<circle cx="552.2" cy="830.9" r="2.2" fill="#0072bd"/>
<line x1="524" y1="854.7" x2="558.3" y2="854.7" stroke="#2a2a2a" stroke-width="1.4" />
<line x1="574.1" y1="838.2" x2="574.1" y2="859.6" stroke="#0072bd" stroke-width="1.05"  stroke-opacity="0.72"/>
<line x1="572.6" y1="838.2" x2="575.6" y2="838.2" stroke="#0072bd" stroke-width="1.1" />
<line x1="572.6" y1="859.6" x2="575.6" y2="859.6" stroke="#0072bd" stroke-width="1.1" />
<circle cx="574.1" cy="849.5" r="2.2" fill="#0072bd"/>
<line x1="577.2" y1="842.2" x2="577.2" y2="879.9" stroke="#d95319" stroke-width="1.05"  stroke-opacity="0.72"/>
<line x1="575.7" y1="842.2" x2="578.7" y2="842.2" stroke="#d95319" stroke-width="1.1" />
<line x1="575.7" y1="879.9" x2="578.7" y2="879.9" stroke="#d95319" stroke-width="1.1" />
<circle cx="577.2" cy="860.6" r="2.2" fill="#d95319"/>
<line x1="580.4" y1="834.3" x2="580.4" y2="869.3" stroke="#edb120" stroke-width="1.05"  stroke-opacity="0.72"/>
<line x1="578.9" y1="834.3" x2="581.9" y2="834.3" stroke="#edb120" stroke-width="1.1" />
<line x1="578.9" y1="869.3" x2="581.9" y2="869.3" stroke="#edb120" stroke-width="1.1" />
<circle cx="580.4" cy="851.5" r="2.2" fill="#edb120"/>
<line x1="583.2" y1="837.9" x2="583.2" y2="870.8" stroke="#7e2f8e" stroke-width="1.05" stroke-dasharray="9,3" stroke-opacity="0.72"/>
<line x1="581.7" y1="837.9" x2="584.7" y2="837.9" stroke="#7e2f8e" stroke-width="1.1" />
<line x1="581.7" y1="870.8" x2="584.7" y2="870.8" stroke="#7e2f8e" stroke-width="1.1" />
<circle cx="583.2" cy="854.6" r="1.4" fill="#7e2f8e"/>
<line x1="586.5" y1="831.3" x2="586.5" y2="858.6" stroke="#77ac30" stroke-width="1.05" stroke-dasharray="9,3" stroke-opacity="0.72"/>
<line x1="585" y1="831.3" x2="588" y2="831.3" stroke="#77ac30" stroke-width="1.1" />
<line x1="585" y1="858.6" x2="588" y2="858.6" stroke="#77ac30" stroke-width="1.1" />
<circle cx="586.5" cy="845" r="1.4" fill="#77ac30"/>
<line x1="589.6" y1="837.3" x2="589.6" y2="912.3" stroke="#4dbeee" stroke-width="1.05"  stroke-opacity="0.72"/>
<line x1="588.1" y1="837.3" x2="591.1" y2="837.3" stroke="#4dbeee" stroke-width="1.1" />
<line x1="588.1" y1="912.3" x2="591.1" y2="912.3" stroke="#4dbeee" stroke-width="1.1" />
<circle cx="589.6" cy="873.8" r="2.2" fill="#4dbeee"/>
<line x1="592.9" y1="842.6" x2="592.9" y2="903.7" stroke="#a2142f" stroke-width="1.05"  stroke-opacity="0.72"/>
<line x1="591.4" y1="842.6" x2="594.4" y2="842.6" stroke="#a2142f" stroke-width="1.1" />
<line x1="591.4" y1="903.7" x2="594.4" y2="903.7" stroke="#a2142f" stroke-width="1.1" />
<circle cx="592.9" cy="872.8" r="2.2" fill="#a2142f"/>
<line x1="595.9" y1="847" x2="595.9" y2="878.9" stroke="#0072bd" stroke-width="1.05"  stroke-opacity="0.72"/>
<line x1="594.4" y1="847" x2="597.4" y2="847" stroke="#0072bd" stroke-width="1.1" />
<line x1="594.4" y1="878.9" x2="597.4" y2="878.9" stroke="#0072bd" stroke-width="1.1" />
<circle cx="595.9" cy="862.7" r="2.2" fill="#0072bd"/>
<line x1="567.5" y1="859.3" x2="602" y2="859.3" stroke="#2a2a2a" stroke-width="1.4" />
<line x1="617.7" y1="859.6" x2="617.7" y2="881.9" stroke="#0072bd" stroke-width="1.05"  stroke-opacity="0.72"/>
<line x1="616.2" y1="859.6" x2="619.2" y2="859.6" stroke="#0072bd" stroke-width="1.1" />
<line x1="616.2" y1="881.9" x2="619.2" y2="881.9" stroke="#0072bd" stroke-width="1.1" />
<circle cx="617.7" cy="870.5" r="2.2" fill="#0072bd"/>
<line x1="620.7" y1="792.1" x2="620.7" y2="834.8" stroke="#d95319" stroke-width="1.05"  stroke-opacity="0.72"/>
<line x1="619.2" y1="792.1" x2="622.2" y2="792.1" stroke="#d95319" stroke-width="1.1" />
<line x1="619.2" y1="834.8" x2="622.2" y2="834.8" stroke="#d95319" stroke-width="1.1" />
<circle cx="620.7" cy="813.4" r="2.2" fill="#d95319"/>
<line x1="623.7" y1="788.2" x2="623.7" y2="827.5" stroke="#edb120" stroke-width="1.05"  stroke-opacity="0.72"/>
<line x1="622.2" y1="788.2" x2="625.2" y2="788.2" stroke="#edb120" stroke-width="1.1" />
<line x1="622.2" y1="827.5" x2="625.2" y2="827.5" stroke="#edb120" stroke-width="1.1" />
<circle cx="623.7" cy="807.5" r="2.2" fill="#edb120"/>
<line x1="626.8" y1="822.5" x2="626.8" y2="858.6" stroke="#7e2f8e" stroke-width="1.05" stroke-dasharray="9,3" stroke-opacity="0.72"/>
<line x1="625.3" y1="822.5" x2="628.3" y2="822.5" stroke="#7e2f8e" stroke-width="1.1" />
<line x1="625.3" y1="858.6" x2="628.3" y2="858.6" stroke="#7e2f8e" stroke-width="1.1" />
<circle cx="626.8" cy="832.8" r="1.4" fill="#7e2f8e"/>
<line x1="629.8" y1="801.9" x2="629.8" y2="830.8" stroke="#77ac30" stroke-width="1.05" stroke-dasharray="9,3" stroke-opacity="0.72"/>
<line x1="628.3" y1="801.9" x2="631.3" y2="801.9" stroke="#77ac30" stroke-width="1.1" />
<line x1="628.3" y1="830.8" x2="631.3" y2="830.8" stroke="#77ac30" stroke-width="1.1" />
<circle cx="629.8" cy="810.5" r="1.4" fill="#77ac30"/>
<line x1="633.2" y1="773.5" x2="633.2" y2="859.6" stroke="#4dbeee" stroke-width="1.05"  stroke-opacity="0.72"/>
<line x1="631.7" y1="773.5" x2="634.7" y2="773.5" stroke="#4dbeee" stroke-width="1.1" />
<line x1="631.7" y1="859.6" x2="634.7" y2="859.6" stroke="#4dbeee" stroke-width="1.1" />
<circle cx="633.2" cy="816.6" r="2.2" fill="#4dbeee"/>
<line x1="636.6" y1="806.3" x2="636.6" y2="873.3" stroke="#a2142f" stroke-width="1.05"  stroke-opacity="0.72"/>
<line x1="635.1" y1="806.3" x2="638.1" y2="806.3" stroke="#a2142f" stroke-width="1.1" />
<line x1="635.1" y1="873.3" x2="638.1" y2="873.3" stroke="#a2142f" stroke-width="1.1" />
<circle cx="636.6" cy="839.4" r="2.2" fill="#a2142f"/>
<line x1="639.6" y1="843.9" x2="639.6" y2="875.8" stroke="#0072bd" stroke-width="1.05"  stroke-opacity="0.72"/>
<line x1="638.1" y1="843.9" x2="641.1" y2="843.9" stroke="#0072bd" stroke-width="1.1" />
<line x1="638.1" y1="875.8" x2="641.1" y2="875.8" stroke="#0072bd" stroke-width="1.1" />
<circle cx="639.6" cy="859.6" r="2.2" fill="#0072bd"/>
<line x1="610.9" y1="833.3" x2="645.7" y2="833.3" stroke="#2a2a2a" stroke-width="1.4" />
<rect x="410.5" y="736" width="261.5" height="261.2" fill="none" stroke="#737373" stroke-width="1.5"/>
<line x1="454.2" y1="997.2" x2="454.2" y2="993.1" stroke="#737373" stroke-width="1.1" />
<line x1="454.2" y1="736" x2="454.2" y2="740.1" stroke="#737373" stroke-width="1.1" />
<line x1="497.8" y1="997.2" x2="497.8" y2="993.1" stroke="#737373" stroke-width="1.1" />
<line x1="497.8" y1="736" x2="497.8" y2="740.1" stroke="#737373" stroke-width="1.1" />
<line x1="541.4" y1="997.2" x2="541.4" y2="993.1" stroke="#737373" stroke-width="1.1" />
<line x1="541.4" y1="736" x2="541.4" y2="740.1" stroke="#737373" stroke-width="1.1" />
<line x1="585.4" y1="997.2" x2="585.4" y2="993.1" stroke="#737373" stroke-width="1.1" />
<line x1="585.4" y1="736" x2="585.4" y2="740.1" stroke="#737373" stroke-width="1.1" />
<line x1="629" y1="997.2" x2="629" y2="993.1" stroke="#737373" stroke-width="1.1" />
<line x1="629" y1="736" x2="629" y2="740.1" stroke="#737373" stroke-width="1.1" />
<line x1="410.5" y1="953.8" x2="414.6" y2="953.8" stroke="#737373" stroke-width="1.1" />
<line x1="672" y1="953.8" x2="667.9" y2="953.8" stroke="#737373" stroke-width="1.1" />
<line x1="410.5" y1="910.2" x2="414.6" y2="910.2" stroke="#737373" stroke-width="1.1" />
<line x1="672" y1="910.2" x2="667.9" y2="910.2" stroke="#737373" stroke-width="1.1" />
<line x1="410.5" y1="866.5" x2="414.6" y2="866.5" stroke="#737373" stroke-width="1.1" />
<line x1="672" y1="866.5" x2="667.9" y2="866.5" stroke="#737373" stroke-width="1.1" />
<line x1="410.5" y1="822.9" x2="414.6" y2="822.9" stroke="#737373" stroke-width="1.1" />
<line x1="672" y1="822.9" x2="667.9" y2="822.9" stroke="#737373" stroke-width="1.1" />
<line x1="410.5" y1="779.1" x2="414.6" y2="779.1" stroke="#737373" stroke-width="1.1" />
<line x1="672" y1="779.1" x2="667.9" y2="779.1" stroke="#737373" stroke-width="1.1" />
<text x="369.03" y="786.1" font-size="21.6" fill="#262626" textLength="32.1" lengthAdjust="spacingAndGlyphs" >0.3</text>
<text x="356.04" y="830" font-size="21.6" fill="#262626" textLength="45.04" lengthAdjust="spacingAndGlyphs" >0.25</text>
<text x="369.03" y="873.5" font-size="21.6" fill="#262626" textLength="32.07" lengthAdjust="spacingAndGlyphs" >0.2</text>
<text x="356.04" y="917.3" font-size="21.6" fill="#262626" textLength="45.04" lengthAdjust="spacingAndGlyphs" >0.15</text>
<text x="369.03" y="960.9" font-size="21.6" fill="#262626" textLength="32.1" lengthAdjust="spacingAndGlyphs" >0.1</text>
<text transform="translate(467.5,1020.4) rotate(-45)" font-size="23.5" fill="#262626" text-anchor="end" textLength="67.59" lengthAdjust="spacingAndGlyphs">1-20%</text>
<text transform="translate(511.42,1020.4) rotate(-45)" font-size="23.5" fill="#262626" text-anchor="end" textLength="77.71" lengthAdjust="spacingAndGlyphs">20-40%</text>
<text transform="translate(553.9,1020.4) rotate(-45)" font-size="23.5" fill="#262626" text-anchor="end" textLength="80.44" lengthAdjust="spacingAndGlyphs">40-60%</text>
<text transform="translate(598.38,1020.4) rotate(-45)" font-size="23.5" fill="#262626" text-anchor="end" textLength="79.14" lengthAdjust="spacingAndGlyphs">60-80%</text>
<text transform="translate(641.02,1021.2) rotate(-45)" font-size="23.5" fill="#262626" text-anchor="end" textLength="92.55" lengthAdjust="spacingAndGlyphs">80-100%</text>
</svg>
</body></html>
